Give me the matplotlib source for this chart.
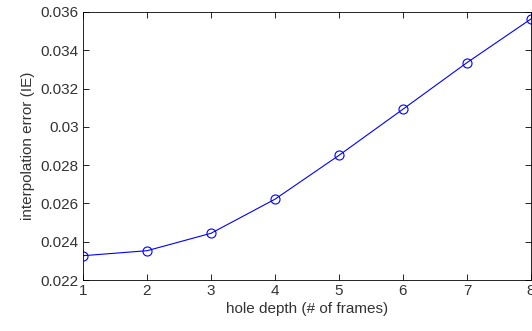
import matplotlib
matplotlib.use('Agg')
import matplotlib.pyplot as plt

# ── Data ──────────────────────────────────────────────────────────────────────
hole_depth = [1, 2, 3, 4, 5, 6, 7, 8]
interp_error = [0.02327, 0.02353, 0.02444, 0.02622, 0.02851, 0.03092, 0.03335, 0.03563]
y_ticks = [0.022, 0.024, 0.026, 0.028, 0.03, 0.032, 0.034, 0.036]
y_tick_labels = ['0.022', '0.024', '0.026', '0.028', '0.03', '0.032', '0.034', '0.036']

plt.rcParams['font.family'] = ['Liberation Sans', 'DejaVu Sans']

fig = plt.figure(figsize=(5.32, 3.31), dpi=100)
ax = fig.add_axes([0.156, 0.154, 0.842, 0.81])

ax.plot(hole_depth, interp_error, color='#0000ff', linewidth=0.8,
        marker='o', markersize=6.5, markerfacecolor='none',
        markeredgecolor='#0000ff', markeredgewidth=0.8)

ax.set_xlim(1, 8)
ax.set_ylim(0.022, 0.036)
ax.set_xticks(hole_depth)
ax.set_yticks(y_ticks)
ax.set_yticklabels(y_tick_labels)

ax.tick_params(direction='in', length=4, width=0.6, labelsize=11, pad=3,
               top=True, right=True, colors='black', labelcolor='#333333')
for s in ax.spines.values():
    s.set_linewidth(0.6)

ax.set_xlabel('hole depth (# of frames)', fontsize=11, color='#333333', labelpad=3)
ax.set_ylabel('interpolation error (IE)', fontsize=11, color='#333333', labelpad=4)

fig.savefig('out.png', dpi=100)
